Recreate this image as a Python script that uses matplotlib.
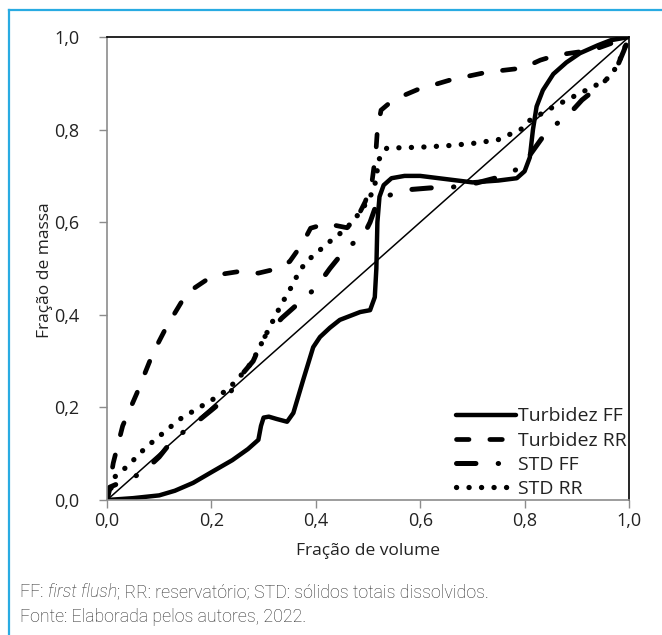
import matplotlib
matplotlib.use("Agg")
import matplotlib.pyplot as plt
from matplotlib.lines import Line2D
from matplotlib.offsetbox import TextArea, HPacker, AnchoredOffsetbox

plt.rcParams["font.family"] = ["Open Sans", "DejaVu Sans"]
plt.rcParams["lines.scale_dashes"] = False

# Curvas (fração de volume, fração de massa)
turb_ff_x = [0, 0.05, 0.1, 0.13, 0.165, 0.2, 0.24, 0.27, 0.29, 0.295, 0.3, 0.31, 0.325, 0.345,
             0.357, 0.376, 0.395, 0.408, 0.427, 0.446, 0.485, 0.504, 0.513, 0.516, 0.518, 0.522,
             0.53, 0.545, 0.57, 0.6, 0.65, 0.7, 0.75, 0.785, 0.8, 0.81, 0.816, 0.823, 0.835,
             0.855, 0.88, 0.906, 0.94, 0.965, 1.0]
turb_ff_y = [0, 0.004, 0.01, 0.02, 0.037, 0.06, 0.086, 0.11, 0.13, 0.16, 0.178, 0.18, 0.175, 0.169,
             0.188, 0.26, 0.33, 0.352, 0.372, 0.389, 0.406, 0.41, 0.438, 0.5, 0.6, 0.655,
             0.68, 0.695, 0.70, 0.70, 0.693, 0.686, 0.69, 0.695, 0.71, 0.74, 0.8, 0.85, 0.885,
             0.92, 0.945, 0.965, 0.982, 0.993, 1.0]

turb_rr_x = [0, 0.012, 0.03, 0.057, 0.088, 0.114, 0.153, 0.19, 0.21, 0.25, 0.29, 0.32, 0.35,
             0.375, 0.39, 0.42, 0.46, 0.475, 0.495, 0.508, 0.515, 0.518, 0.525, 0.548, 0.594,
             0.657, 0.728, 0.797, 0.83, 0.862, 0.931, 1.0]
turb_rr_y = [0, 0.08, 0.16, 0.23, 0.317, 0.374, 0.447, 0.475, 0.486, 0.493, 0.49, 0.498, 0.515,
             0.555, 0.587, 0.597, 0.588, 0.6, 0.645, 0.69, 0.75, 0.8, 0.842, 0.864, 0.886,
             0.907, 0.924, 0.933, 0.95, 0.961, 0.972, 1.0]

std_ff_x = [0, 0.006, 0.067, 0.1, 0.126, 0.165, 0.2, 0.23, 0.262, 0.28, 0.3, 0.335, 0.37, 0.4,
            0.427, 0.46, 0.49, 0.504, 0.515, 0.529, 0.575, 0.619, 0.663, 0.709, 0.753, 0.797,
            0.81, 0.845, 0.88, 0.91, 0.95, 0.977, 0.99, 1.0]
std_ff_y = [0, 0.028, 0.058, 0.093, 0.13, 0.162, 0.194, 0.222, 0.276, 0.3, 0.35, 0.393, 0.428,
            0.458, 0.5, 0.546, 0.568, 0.6, 0.635, 0.654, 0.67, 0.674, 0.676, 0.685, 0.698, 0.72,
            0.745, 0.8, 0.827, 0.864, 0.9, 0.935, 0.97, 1.0]

std_rr_x = [0, 0.015, 0.038, 0.054, 0.073, 0.092, 0.126, 0.146, 0.169, 0.19, 0.21, 0.23, 0.249,
            0.278, 0.312, 0.335, 0.347, 0.37, 0.385, 0.404, 0.423, 0.443, 0.47, 0.49, 0.504,
            0.513, 0.517, 0.52, 0.536, 0.6, 0.65, 0.7, 0.749, 0.778, 0.797, 0.81, 0.855, 0.9,
            0.944, 0.964, 0.98, 1.0]
std_rr_y = [0, 0.05, 0.072, 0.09, 0.112, 0.13, 0.162, 0.18, 0.194, 0.209, 0.222, 0.238, 0.259,
            0.298, 0.374, 0.425, 0.447, 0.497, 0.518, 0.536, 0.555, 0.572, 0.6, 0.63, 0.654,
            0.68, 0.706, 0.734, 0.76, 0.762, 0.765, 0.77, 0.778, 0.793, 0.803, 0.82, 0.849, 0.875,
            0.9, 0.914, 0.944, 1.0]

ticks = [0, 0.2, 0.4, 0.6, 0.8, 1.0]
tick_labels = ["0,0", "0,2", "0,4", "0,6", "0,8", "1,0"]
series_names = ["Turbidez FF", "Turbidez RR", "STD FF", "STD RR"]

W, H = 662, 635
fig = plt.figure(figsize=(W / 100, H / 100), dpi=100)
ax = fig.add_axes([107 / W, 1 - 500 / H, 522 / W, 463 / H])

ax.plot([0, 1], [0, 1], color="black", lw=1.1)
kw = dict(color="black", solid_capstyle="round", dash_capstyle="round")
h1, = ax.plot(turb_ff_x, turb_ff_y, lw=3.2, ls="-", **kw)
h2, = ax.plot(turb_rr_x, turb_rr_y, lw=3.4, ls=(0, (9, 15)), **kw)
h3, = ax.plot(std_ff_x, std_ff_y, lw=3.6, ls=(0, (14, 16, 0.3, 16)), **kw)
h4, = ax.plot(std_rr_x, std_rr_y, lw=3.8, ls=(0, (0.1, 8.9)), **kw)

ax.set_xlim(0, 1)
ax.set_ylim(0, 1)
ax.set_xticks(ticks)
ax.set_xticklabels(tick_labels)
ax.set_yticks(ticks)
ax.set_yticklabels(tick_labels)
ax.tick_params(direction="out", length=6, width=1, color="#8c8c8c", labelsize=13,
               labelcolor="#222222")
ax.tick_params(axis="y", pad=14)
ax.tick_params(axis="x", pad=3)
for s in ["left", "bottom"]:
    ax.spines[s].set_color("#8c8c8c")
    ax.spines[s].set_linewidth(1.2)
for s in ["top", "right"]:
    ax.spines[s].set_color("black")
    ax.spines[s].set_linewidth(1.2)

fig.text(368 / W, 1 - 551 / H, "Fração de volume", fontsize=12.5, color="#222222",
         ha="center", va="center")
fig.text(45 / W, 1 - 270 / H, "Fração de massa", fontsize=12.5, color="#222222",
         ha="center", va="center", rotation=90)

ax.legend([h1, h2, h3, h4], series_names, loc="lower right", frameon=False, fontsize=14,
          handlelength=3.1, handletextpad=0.1, labelspacing=0.32, borderaxespad=0.0,
          borderpad=0.1, bbox_to_anchor=(1.0, 0.0), labelcolor="#222222")

# moldura azul (topo e esquerda)
fig.add_artist(Line2D([9 / W, 9 / W], [0, 1 - 10 / H], transform=fig.transFigure,
                      color="#29abe2", lw=1.6))
fig.add_artist(Line2D([9 / W, 1], [1 - 10 / H, 1 - 10 / H], transform=fig.transFigure,
                      color="#29abe2", lw=1.6))

tp = dict(fontsize=12.8, color="#2a2a2a", family=["Roboto", "DejaVu Sans"], fontweight="light")
parts = [TextArea("FF: ", textprops=tp),
         TextArea("first flush", textprops=dict(tp, style="italic")),
         TextArea("; RR: reservatório; STD: sólidos totais dissolvidos.", textprops=tp)]
box = HPacker(children=parts, align="baseline", pad=0, sep=0)
ab = AnchoredOffsetbox(loc="center left", child=box, frameon=False, pad=0, borderpad=0,
                       bbox_to_anchor=(20 / W, 1 - 592 / H), bbox_transform=fig.transFigure)
fig.add_artist(ab)
fig.text(20 / W, 1 - 617 / H, "Fonte: Elaborada pelos autores, 2022.", va="center", **tp)

fig.savefig("out.png", dpi=100)
